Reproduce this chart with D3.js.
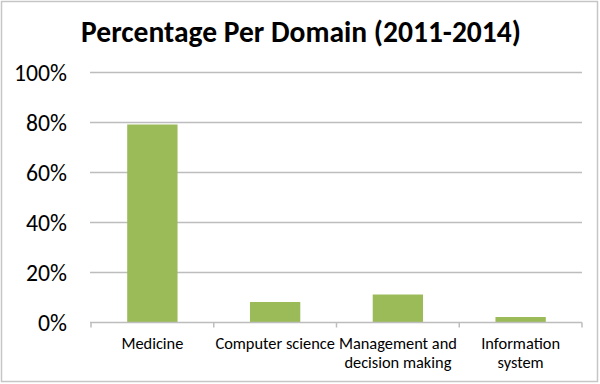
<!DOCTYPE html>
<meta charset="utf-8">
<head>
    <title>Percentage Per Domain</title>
    <style>
        body { margin: 0; background: #fff; }
        svg { display: block; }
    </style>
</head>
<body>
    <script src="https://cdn.jsdelivr.net/npm/d3@7"></script>
    <script>
        // chart data
        var domains = ["Medicine", "Computer science", "Management and decision making", "Information system"];
        var domainLines = [["Medicine"], ["Computer science"], ["Management and", "decision making"], ["Information", "system"]];
        var percentages = [0.79, 0.08, 0.11, 0.02];
        var yTicks = [0, 0.2, 0.4, 0.6, 0.8, 1.0];
        var title = "Percentage Per Domain (2011-2014)";

        var width = 600, height = 384;
        var margin = { top: 72, right: 18, bottom: 62, left: 91 };
        var font = "Carlito, Lato, 'Open Sans', sans-serif";

        var svg = d3.select("body")
            .append("svg")
            .attr("width", width)
            .attr("height", height);

        // measure a string and return the font size that gives the wanted width
        function fitSize(str, base, target, weight) {
            var tmp = svg.append("text")
                .style("font-family", font)
                .style("font-weight", weight || "normal")
                .style("font-size", base + "px")
                .text(str);
            var w = tmp.node().getComputedTextLength();
            tmp.remove();
            return base * target / w;
        }

        // outer frame
        svg.append("rect")
            .attr("x", 1.5).attr("y", 1.5)
            .attr("width", width - 4).attr("height", height - 4)
            .attr("fill", "#fff")
            .attr("stroke", "#c6c6c6")
            .attr("stroke-width", 1.5);

        var x = d3.scaleBand()
            .domain(domains)
            .range([margin.left, width - margin.right])
            .paddingInner(0.59)
            .paddingOuter(0.295);

        var y = d3.scaleLinear()
            .domain([0, 1])
            .range([height - margin.bottom, margin.top]);

        // gridlines
        svg.append("g")
            .selectAll("line")
            .data(yTicks.filter(function (d) { return d > 0; }))
            .enter()
            .append("line")
            .attr("x1", margin.left - 1)
            .attr("x2", width - margin.right)
            .attr("y1", function (d) { return Math.round(y(d)) + 0.5; })
            .attr("y2", function (d) { return Math.round(y(d)) + 0.5; })
            .attr("stroke", "#bdbdbd")
            .attr("stroke-width", 1.5);

        // y labels
        var ySize = fitSize("100%", 20, 53);
        svg.append("g")
            .selectAll("text")
            .data(yTicks)
            .enter()
            .append("text")
            .attr("x", 67)
            .attr("y", function (d) { return y(d); })
            .attr("dy", "0.36em")
            .attr("text-anchor", "end")
            .style("font-family", font)
            .style("font-size", ySize + "px")
            .attr("fill", "#000")
            .text(function (d) { return d3.format(".0%")(d); });

        // bars
        svg.append("g")
            .selectAll("rect")
            .data(percentages)
            .enter()
            .append("rect")
            .attr("x", function (d, i) { return x(domains[i]); })
            .attr("width", x.bandwidth())
            .attr("y", function (d) { return y(d); })
            .attr("height", function (d) { return y(0) - y(d); })
            .attr("fill", "#9bbb59");

        // x axis line and ticks at category boundaries
        var step = x.step();
        var boundaries = d3.range(domains.length + 1).map(function (i) {
            return margin.left + i * step;
        });
        var axisY = Math.round(y(0)) + 0.5;
        svg.append("line")
            .attr("x1", margin.left - 1)
            .attr("x2", width - margin.right)
            .attr("y1", axisY).attr("y2", axisY)
            .attr("stroke", "#bdbdbd")
            .attr("stroke-width", 1.5);
        svg.append("g")
            .selectAll("line")
            .data(boundaries)
            .enter()
            .append("line")
            .attr("x1", function (d) { return d; })
            .attr("x2", function (d) { return d; })
            .attr("y1", axisY)
            .attr("y2", axisY + 5)
            .attr("stroke", "#bdbdbd")
            .attr("stroke-width", 1.5);

        // category labels
        var catSize = fitSize("Medicine", 14, 62);
        var cat = svg.append("g")
            .selectAll("text")
            .data(domains)
            .enter()
            .append("text")
            .attr("x", function (d) { return x(d) + x.bandwidth() / 2; })
            .attr("y", 349)
            .attr("text-anchor", "middle")
            .style("font-family", font)
            .style("font-size", catSize + "px")
            .attr("fill", "#000");
        cat.selectAll("tspan")
            .data(function (d, i) { return domainLines[i]; })
            .enter()
            .append("tspan")
            .attr("x", function () { return this.parentNode.getAttribute("x"); })
            .attr("dy", function (d, i) { return i === 0 ? 0 : 19; })
            .text(function (d) { return d; });

        // title, sized to the width seen in the original
        var titleSize = fitSize(title, 26, 440, "bold");
        svg.append("text")
            .attr("x", 301)
            .attr("y", 42)
            .attr("text-anchor", "middle")
            .style("font-family", font)
            .style("font-weight", "bold")
            .style("font-size", titleSize + "px")
            .attr("fill", "#000")
            .text(title);
    </script>
</body>
</html>
